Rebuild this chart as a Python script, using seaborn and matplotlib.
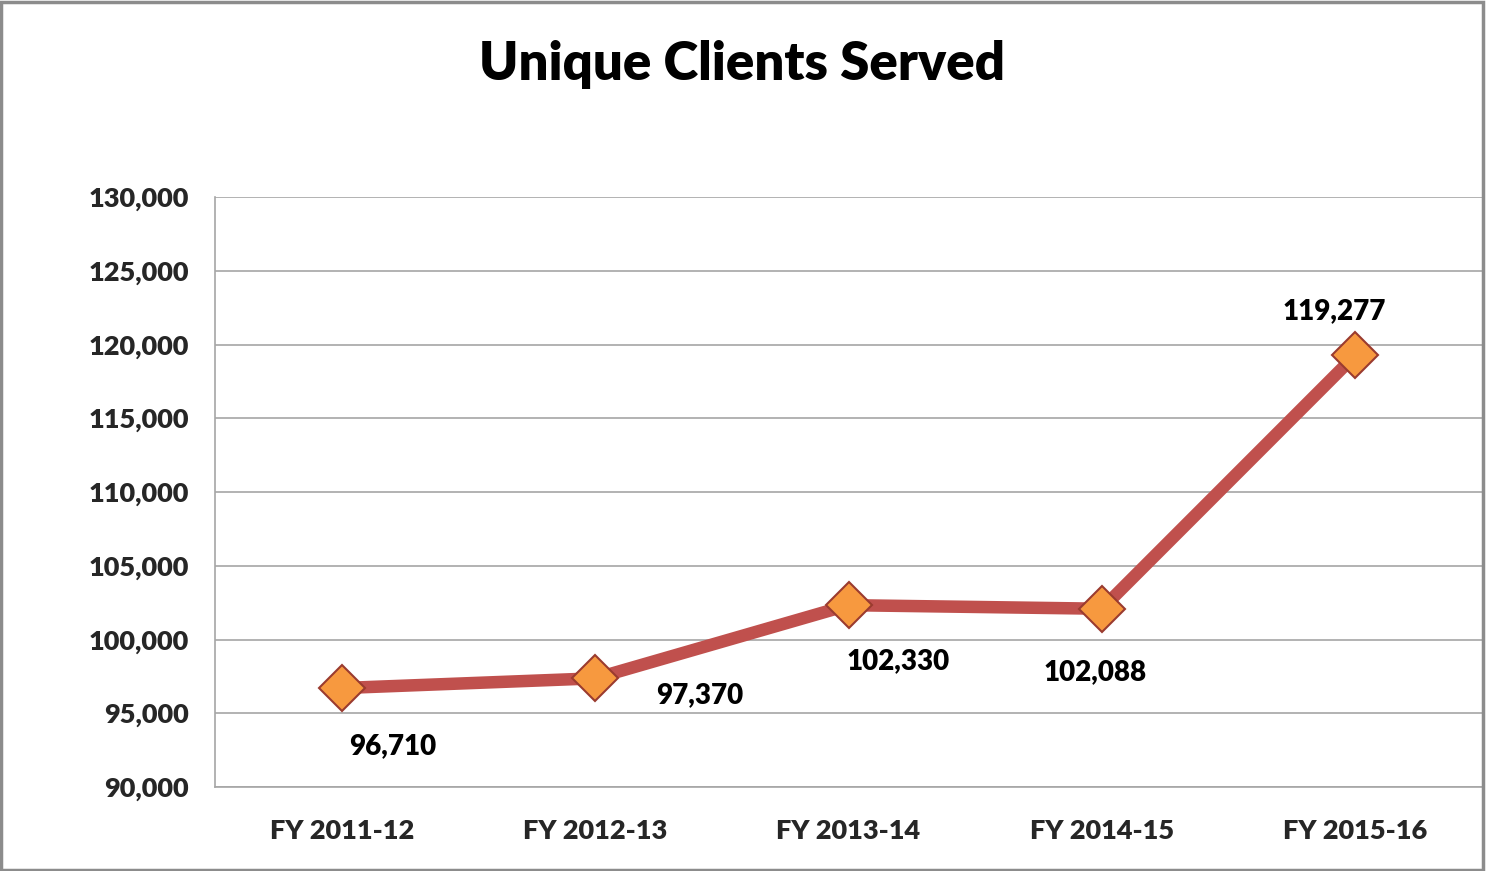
import matplotlib
matplotlib.use("Agg")
import matplotlib.pyplot as plt
import seaborn as sns
import pandas as pd
from matplotlib.ticker import FuncFormatter
from matplotlib.patches import Rectangle

categories = ["FY 2011-12", "FY 2012-13", "FY 2013-14", "FY 2014-15", "FY 2015-16"]
clients = [96710, 97370, 102330, 102088, 119277]
label_offsets = [(37, -42), (75, -12), (36, -40), (-5, -46), (-15, 32)]

sns.set_theme(style="white")
plt.rcParams['font.family'] = ['Lato', 'DejaVu Sans']
plt.rcParams['font.weight'] = 'bold'

df = pd.DataFrame({"cat": categories, "val": clients})

fig = plt.figure(figsize=(14.86, 8.71), dpi=100)
ax = fig.add_axes([0.1447, 0.0964, 0.8526, 0.6774])

sns.lineplot(data=df, x="cat", y="val", ax=ax, color="#C0504D", linewidth=9,
             marker="D", markersize=23, markerfacecolor="#F7993F",
             markeredgecolor="#9A3B2F", markeredgewidth=1.5, sort=False)

ax.set_ylim(90000, 130000)
ax.set_xlim(-0.5, 4.5)
ax.set_yticks(range(90000, 130001, 5000))
ax.yaxis.set_major_formatter(FuncFormatter(lambda v, p: f"{int(v):,}"))
ax.grid(axis="y", color="#A6A6A6", linewidth=1.2)
ax.set_axisbelow(True)
ax.set_xlabel("")
ax.set_ylabel("")
for s in ["top", "right"]:
    ax.spines[s].set_visible(False)
ax.spines["left"].set_color("#A6A6A6")
ax.spines["bottom"].set_color("#A6A6A6")
ax.spines["left"].set_linewidth(1.2)
ax.spines["bottom"].set_linewidth(1.2)
ax.tick_params(axis="y", labelsize=19.5, length=0, pad=19)
ax.tick_params(axis="x", labelsize=19.5, length=0, pad=23)
for lab in ax.get_xticklabels() + ax.get_yticklabels():
    lab.set_fontweight("heavy")

for i, (v, off) in enumerate(zip(clients, label_offsets)):
    ax.annotate(f"{v:,}", xy=(i, v), xytext=off, textcoords="offset points",
                ha="center", va="center", fontsize=20, fontweight="heavy", color="black")

fig.text(0.4995, 0.926, "Unique Clients Served", ha="center", va="center",
         fontsize=38, fontweight="heavy", color="black")

fig.patches.append(Rectangle((0.001, 0.001), 0.997, 0.997, transform=fig.transFigure,
                             fill=False, edgecolor="#8C8C8C", linewidth=2.5))

fig.savefig("out.png", dpi=100)
